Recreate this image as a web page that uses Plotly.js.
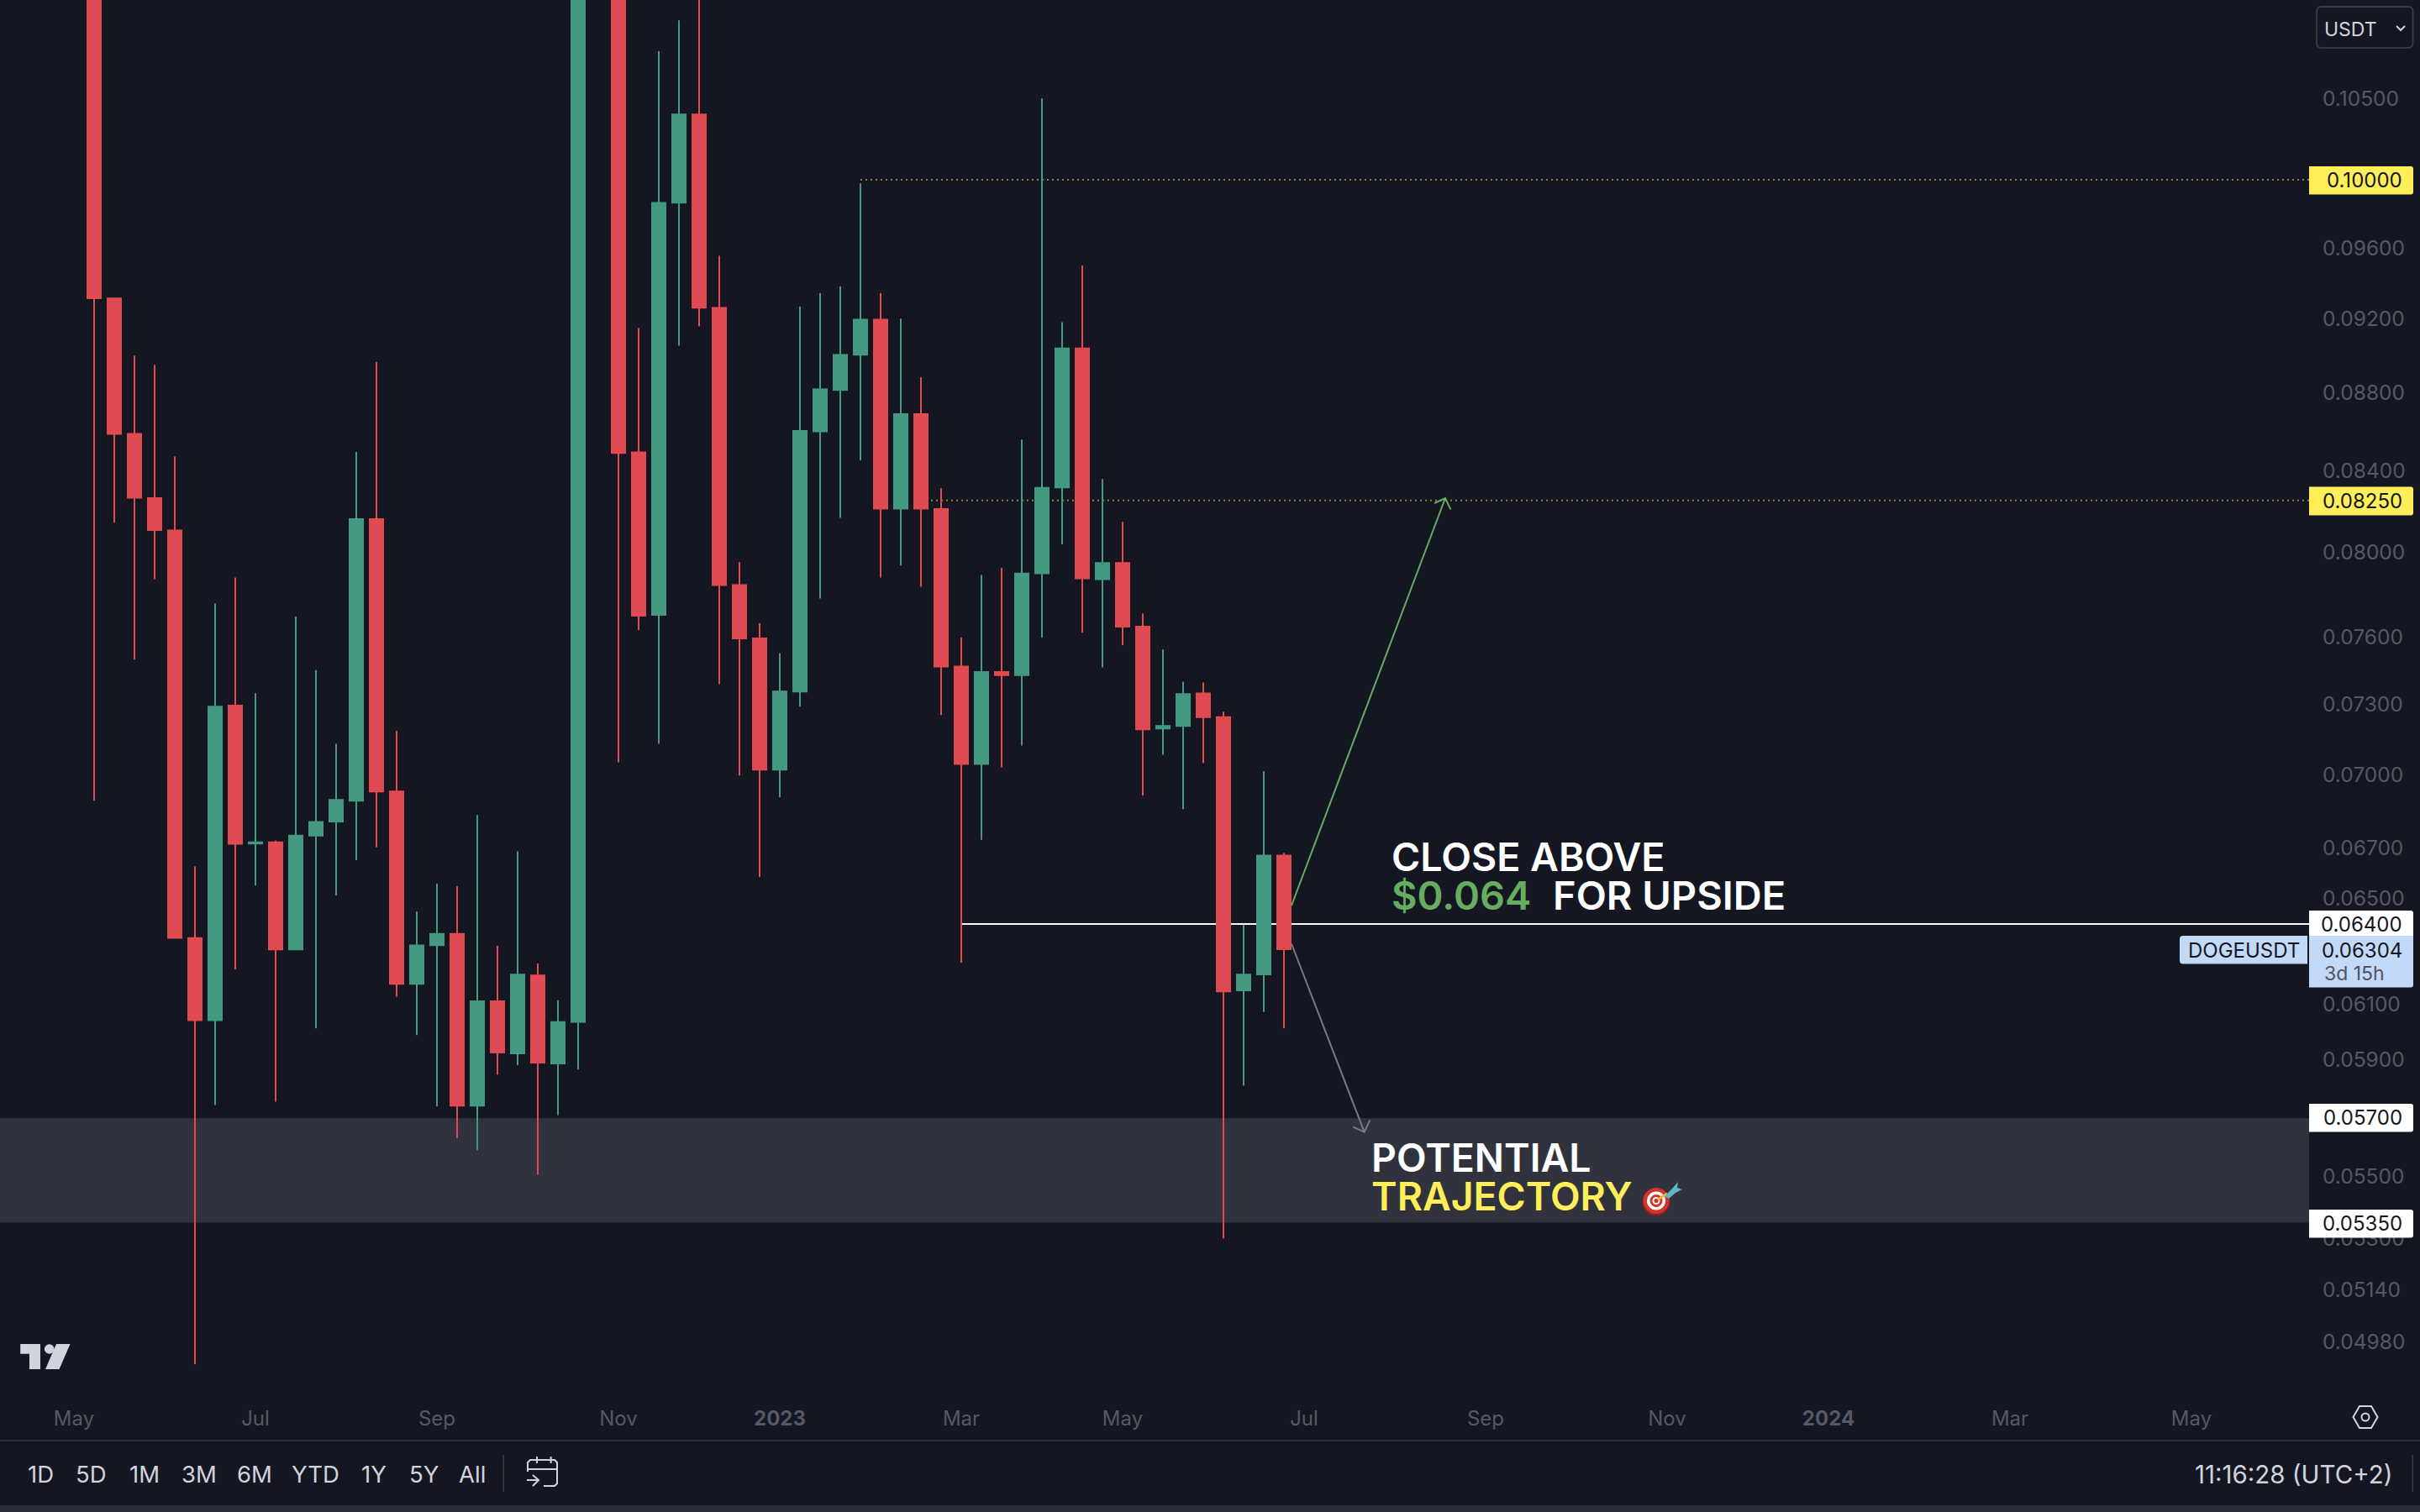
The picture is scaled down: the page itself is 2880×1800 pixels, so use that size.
<!DOCTYPE html>
<html>
<head>
<meta charset="utf-8">
<script src="https://cdn.plot.ly/plotly-3.0.1.min.js"></script>
<style>html,body{margin:0;padding:0;background:#141722}#chart{width:2880px;height:1800px}</style>
</head>
<body>
<div id="chart"></div>
<script>
// DOGEUSDT weekly candles
const weeks = ['2022-05-09','2022-05-16','2022-05-23','2022-05-30','2022-06-06','2022-06-13','2022-06-20','2022-06-27','2022-07-04','2022-07-11','2022-07-18','2022-07-25','2022-08-01','2022-08-08','2022-08-15','2022-08-22','2022-08-29','2022-09-05','2022-09-12','2022-09-19','2022-09-26','2022-10-03','2022-10-10','2022-10-17','2022-10-24','2022-10-31','2022-11-07','2022-11-14','2022-11-21','2022-11-28','2022-12-05','2022-12-12','2022-12-19','2022-12-26','2023-01-02','2023-01-09','2023-01-16','2023-01-23','2023-01-30','2023-02-06','2023-02-13','2023-02-20','2023-02-27','2023-03-06','2023-03-13','2023-03-20','2023-03-27','2023-04-03','2023-04-10','2023-04-17','2023-04-24','2023-05-01','2023-05-08','2023-05-15','2023-05-22','2023-05-29','2023-06-05','2023-06-12','2023-06-19','2023-06-26'];
const opens = [.135,.09313,.08586,.08262,.08103,.06346,.06041,.07295,.06716,.06721,.06303,.06748,.06805,.06891,.08159,.06929,.06174,.06319,.06362,.05739,.0611,.05922,.06205,.05886,.06035,.1165,.1175,.08492,.07703,.09864,.10399,.09261,.07842,.07595,.0702,.07357,.086,.08816,.09004,.09195,.0821,.08689,.08208,.07468,.07044,.07444,.0743,.07898,.08315,.09038,.0787,.07947,.07649,.07196,.07207,.07349,.07245,.0615,.06209,.06668];
const highs = [.15,.09313,.09,.0895,.08472,.06625,.07756,.07878,.0735,.06728,.07695,.07452,.0713,.08494,.08964,.07185,.06447,.06556,.06546,.06832,.06316,.06685,.0625,.06114,.125,.15,.125,.09149,.10801,.11003,.113,.09554,.07951,.07664,.07529,.09267,.09342,.0938,.09978,.09342,.09201,.08883,.08311,.07599,.0789,.07923,.08557,.10499,.09182,.09498,.08357,.08145,.0771,.07545,.07401,.07397,.07269,.06397,.07013,.06679];
const lows = [.06891,.08141,.07499,.0787,.06344,.04914,.05741,.06228,.06549,.05753,.063,.06011,.0651,.06649,.06701,.06127,.05987,.05736,.05628,.05588,.05847,.0588,.05506,.05707,.05865,.1125,.07051,.07633,.0713,.09053,.09159,.0739,.06996,.06582,.06905,.07291,.07779,.08165,.08451,.07878,.07935,.07834,.07254,.06253,.06731,.0703,.07123,.07599,.08036,.07621,.07464,.07564,.06912,.07083,.06856,.07048,.053,.05808,.06071,.06011];
const closes = [.09314,.08587,.08264,.08105,.06347,.06041,.07291,.06715,.06721,.06303,.06748,.06804,.06894,.08159,.06929,.06174,.06318,.06362,.05739,.0611,.05925,.06208,.05889,.06034,.1165,.1175,.08489,.07699,.09863,.10399,.09262,.07842,.07595,.0702,.07357,.08602,.08819,.09003,.09195,.0821,.08689,.0821,.07468,.07044,.07444,.0743,.07897,.08313,.09038,.07874,.07947,.07649,.07192,.07207,.07346,.07245,.06146,.06208,.06668,.06304];

const priceTicks = [.105,.096,.092,.088,.084,.08,.076,.073,.07,.067,.065,.061,.059,.055,.053,.0514,.0498];
const priceTickText = ['0.10500','0.09600','0.09200','0.08800','0.08400','0.08000','0.07600','0.07300','0.07000','0.06700','0.06500','0.06100','0.05900','0.05500','0.05300','0.05140','0.04980'];
const timeTicks = ['2022-05-02','2022-07-04','2022-09-05','2022-11-07','2023-01-02','2023-03-06','2023-05-01','2023-07-03','2023-09-04','2023-11-06','2024-01-01','2024-03-04','2024-05-06'];
const timeTickText = ['May','Jul','Sep','Nov','<b>2023</b>','Mar','May','Jul','Sep','Nov','<b>2024</b>','Mar','May'];
const rangeButtons = ['1D','5D','1M','3M','6M','YTD','1Y','5Y','All'];
const rangeButtonCentres = [48,108,172.5,237,303,375,444.5,504,562];

const levelTop = .1, levelMid = .0825, levelClose = .064, lastPrice = .06304, zoneTop = .05696, zoneBottom = .0535;

// chrome geometry helpers
const W = 2880, H = 1800, plotW = 2748, plotH = 1665;
const px = x => x / plotW, py = y => 1 - y / plotH;
const P = pts => pts.map((p,i)=>(i?'L':'M')+px(p[0])+','+py(p[1])).join(' ');
const rr = (x0,y0,x1,y1,tl,tr,br,bl) =>
  'M'+px(x0+tl)+','+py(y0)+' L'+px(x1-tr)+','+py(y0)+' Q'+px(x1)+','+py(y0)+' '+px(x1)+','+py(y0+tr)+
  ' L'+px(x1)+','+py(y1-br)+' Q'+px(x1)+','+py(y1)+' '+px(x1-br)+','+py(y1)+
  ' L'+px(x0+bl)+','+py(y1)+' Q'+px(x0)+','+py(y1)+' '+px(x0)+','+py(y1-bl)+
  ' L'+px(x0)+','+py(y0+tl)+' Q'+px(x0)+','+py(y0)+' '+px(x0+tl)+','+py(y0)+' Z';
const path = (d,color,w,fill) => ({type:'path',xref:'paper',yref:'paper',layer:'above',path:d,line:{color:color,width:w||0},fillcolor:fill||'rgba(0,0,0,0)'});
const circ = (cx,cy,r,fill,line,w) => ({type:'circle',xref:'paper',yref:'paper',layer:'above',x0:px(cx-r),x1:px(cx+r),y0:py(cy-r),y1:py(cy+r),fillcolor:fill||'rgba(0,0,0,0)',line:{color:line||fill,width:w||0}});
const rect = (x0,y0,x1,y1,fill) => ({type:'rect',xref:'paper',yref:'paper',layer:'above',x0:px(x0),x1:px(x1),y0:py(y0),y1:py(y1),fillcolor:fill,line:{width:0}});
const txt = (x,y,t,size,color,anchor,weight) => ({xref:'paper',yref:'paper',x:px(x),y:py(y),text:t,showarrow:false,xanchor:anchor||'left',yanchor:'middle',borderpad:0,font:{family:'Inter',size:size,color:color,weight:weight||400}});

const rangeEnd = '2024-06-15 20:00';
const dotYellow = 'rgba(255,238,88,0.5)';
const green = '#449983', red = '#E24A51', ui = '#d1d4dc', yellow = '#FFEE58', blue = '#C3D9F8', dim = '#565963', ink = '#131722';

const shapes = [
  {type:'rect',xref:'paper',yref:'y',layer:'below',x0:0,x1:1,y0:zoneBottom,y1:zoneTop,fillcolor:'#30333d',line:{width:0}},
  {type:'line',xref:'x',yref:'y',layer:'below',x0:'2023-01-30',x1:rangeEnd,y0:levelTop,y1:levelTop,line:{color:dotYellow,width:2,dash:'2px,4px'}},
  {type:'line',xref:'x',yref:'y',layer:'below',x0:'2023-02-20',x1:rangeEnd,y0:levelMid,y1:levelMid,line:{color:dotYellow,width:2,dash:'2px,4px'}},
  {type:'line',xref:'x',yref:'y',layer:'below',x0:'2023-03-06',x1:rangeEnd,y0:levelClose,y1:levelClose,line:{color:'#ffffff',width:2}},
  // trajectory arrows
  path(P([[1537,1078],[1720,593]]),'#66AD5F',2),
  path(P([[1707,599],[1720,593],[1726.5,606.6]]),'#66AD5F',2),
  path(P([[1537,1123.5],[1623.7,1347.7]]),'#787B86',2),
  path(P([[1610.3,1341.7],[1623.7,1347.7],[1630.4,1333.3]]),'#787B86',2),
  // price tags
  path(rr(2748,198,2872,231.5,0,3,3,0),'',0,yellow),
  path(rr(2748,579.5,2872,613.5,0,3,3,0),'',0,yellow),
  path(rr(2748,1084,2872,1115,0,3,0,0),'',0,'#ffffff'),
  path(rr(2748,1114,2872,1175.6,0,0,3,0),'',0,blue),
  path(rr(2594,1114,2746,1147.5,4,0,0,4),'',0,blue),
  path(rr(2748,1314,2872,1347.5,0,3,3,0),'',0,'#ffffff'),
  path(rr(2748,1440,2872,1473.4,0,3,3,0),'',0,'#ffffff'),
  // currency button
  path(rr(2757,8,2871.5,57,6,6,6,6),'#363A45',2),
  path(P([[2852,31],[2857,36],[2862,31]]),ui,2),
  // bottom chrome
  rect(0,1714,W,1716,'#2A2E39'),
  rect(0,1792,W,1800,'#2A2E39'),
  rect(598.5,1732,600,1776,'#363A45'),
  rect(2870.5,1732,2872,1776,'#363A45'),
  // calendar icon
  path(P([[628,1752],[628,1741],[631,1738],[660,1738],[663,1741],[663,1766],[660,1769],[647,1769]]),ui,2),
  path(P([[628,1749],[663,1749]]),ui,2),
  path(P([[639,1734],[639,1742]]),ui,2),
  path(P([[655.6,1734],[655.6,1742]]),ui,2),
  path(P([[627,1762],[641,1762]]),ui,2),
  path(P([[634,1756],[641,1762],[634,1769]]),ui,2),
  // settings icon
  path(P([[2800.5,1687],[2808,1674],[2822,1674],[2829.5,1687],[2822,1700],[2808,1700]])+' Z',ui,2),
  circ(2815,1687,4.5,null,ui,2),
  // logo
  path(P([[24.2,1600],[48,1600],[48,1630],[35,1630],[35,1611.7],[24.2,1611.7]])+' Z','',0,ui),
  circ(58.7,1606,5.8,ui),
  path(P([[67,1600],[83.5,1600],[70.5,1630],[54,1630]])+' Z','',0,ui),
  // target icon
  circ(1971,1431,16.5,'#8E1F1B'),
  circ(1971,1429.5,15.5,'#D5342C'),
  circ(1971,1429.5,11,'#ffffff'),
  circ(1971,1429.5,7.5,'#D5342C'),
  circ(1971,1429.5,4.5,'#ffffff'),
  circ(1971,1429.5,2.5,'#C8302A'),
  path(P([[1973,1428],[1984,1421]]),'#E8B93C',3),
  path(P([[1981,1424],[1990,1415],[1997,1407],[1996,1414],[2002,1416],[1994,1420],[1986,1427]])+' Z','',0,'#62B4C6')
];

const annotations = [
  txt(1655,1020,'CLOSE ABOVE',46.5,'#ffffff','left',600),
  txt(1655,1065,'$0.064',47,'#66AD5F','left',600),
  txt(1847,1065,'FOR UPSIDE',47,'#ffffff','left',600),
  txt(1631,1378,'POTENTIAL',46.4,'#ffffff','left',600),
  txt(1631,1424,'TRAJECTORY',46.4,yellow,'left',600),
  txt(2765,35,'USDT',23,ui),
  txt(2860,214.5,'0.10000',24,ink,'right'),
  txt(2860,596.5,'0.08250',24,ink,'right'),
  txt(2860,1100.5,'0.06400',24,ink,'right'),
  txt(2860,1131,'0.06304',24,ink,'right'),
  txt(2765,1158.5,'3d 15h',23,'#50535E'),
  txt(2670,1131,'DOGEUSDT',24,ink,'center'),
  txt(2860,1330.5,'0.05700',24,ink,'right'),
  txt(2860,1456.5,'0.05350',24,ink,'right'),
  txt(2849,1755,'11:16:28 (UTC+2)',29.5,ui,'right')
];
rangeButtons.forEach((b,i)=>annotations.push(txt(rangeButtonCentres[i],1755,b,27.5,ui,'center')));

const trace = {
  type:'candlestick',x:weeks,open:opens,high:highs,low:lows,close:closes,
  increasing:{line:{color:green,width:2},fillcolor:green},
  decreasing:{line:{color:red,width:2},fillcolor:red},
  whiskerwidth:0,hoverinfo:'skip',showlegend:false
};

const layout = {
  width:W,height:H,margin:{l:0,r:W-plotW,t:0,b:H-plotH,pad:0},
  paper_bgcolor:'#141722',plot_bgcolor:'#141722',showlegend:false,
  boxgap:0.3333,boxgroupgap:0,
  font:{family:'Inter'},
  xaxis:{type:'date',range:['2022-04-06 08:00',rangeEnd],rangeslider:{visible:false},showgrid:false,zeroline:false,showline:false,ticks:'',
    tickmode:'array',tickvals:timeTicks,ticktext:timeTickText,tickangle:0,tickfont:{family:'Inter',size:24,color:dim},ticklabelstandoff:7},
  yaxis:{type:'log',side:'right',range:[-1.31746,-0.95318],autorange:false,showgrid:false,zeroline:false,showline:false,ticks:'',
    tickmode:'array',tickvals:priceTicks,ticktext:priceTickText,tickfont:{family:'Inter',size:24.5,color:dim},ticklabelstandoff:15,ticklabelshift:-1.5},
  shapes:shapes,annotations:annotations,hovermode:false,dragmode:false
};
Plotly.newPlot('chart',[trace],layout,{displayModeBar:false,staticPlot:true});
</script>
</body>
</html>
